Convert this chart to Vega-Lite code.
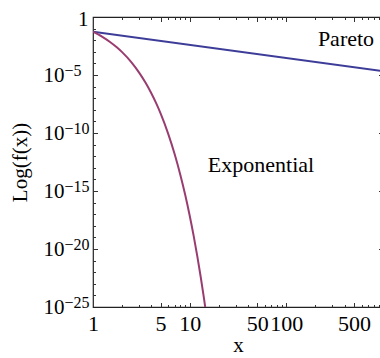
{
  "$schema": "https://vega.github.io/schema/vega-lite/v6.json",
  "width": 290,
  "height": 290,
  "autosize": {"type": "none"},
  "padding": {"left": 93, "top": 17, "right": 0, "bottom": 51},
  "background": "white",
  "config": {
    "view": {"stroke": "#222", "strokeWidth": 1.2},
    "font": "Liberation Serif, DejaVu Serif, serif",
    "axis": {"domain": false, "grid": false, "labelFont": "Liberation Serif, DejaVu Serif, serif", "titleFont": "Liberation Serif, DejaVu Serif, serif", "labelColor": "black", "titleColor": "black", "tickColor": "#333", "tickWidth": 1, "titleFontWeight": "normal"}
  },
  "data": {"values": [
    {"series": "Pareto", "x": 1, "y": 0.0537},
    {"series": "Pareto", "x": 1000, "y": 2.19e-5},
    {"series": "Exponential", "x": 1, "y": 0.0537},
    {"series": "Exponential", "x": 1.25, "y": 0.0195},
    {"series": "Exponential", "x": 1.5, "y": 0.00708},
    {"series": "Exponential", "x": 1.75, "y": 0.00257},
    {"series": "Exponential", "x": 2, "y": 0.000933},
    {"series": "Exponential", "x": 2.5, "y": 0.000123},
    {"series": "Exponential", "x": 3, "y": 1.62e-5},
    {"series": "Exponential", "x": 3.5, "y": 2.14e-6},
    {"series": "Exponential", "x": 4, "y": 2.82e-7},
    {"series": "Exponential", "x": 4.5, "y": 3.72e-8},
    {"series": "Exponential", "x": 5, "y": 4.9e-9},
    {"series": "Exponential", "x": 6, "y": 8.51e-11},
    {"series": "Exponential", "x": 7, "y": 1.48e-12},
    {"series": "Exponential", "x": 8, "y": 2.57e-14},
    {"series": "Exponential", "x": 9, "y": 4.47e-16},
    {"series": "Exponential", "x": 10, "y": 7.76e-18},
    {"series": "Exponential", "x": 11, "y": 1.35e-19},
    {"series": "Exponential", "x": 12, "y": 2.34e-21},
    {"series": "Exponential", "x": 13, "y": 4.07e-23},
    {"series": "Exponential", "x": 14, "y": 7.08e-25},
    {"series": "Exponential", "x": 14.48, "y": 1e-25}
  ]},
  "resolve": {"axis": {"x": "independent", "y": "independent"}},
  "layer": [
    {
      "mark": {"type": "line", "strokeWidth": 2, "clip": true, "interpolate": "monotone"},
      "encoding": {
        "x": {"field": "x", "type": "quantitative", "scale": {"type": "log", "domain": [1, 1000]},
          "axis": {"orient": "bottom", "values": [1, 5, 10, 50, 100, 500], "ticks": false, "tickSize": 0, "format": "d", "labelFontSize": 22, "labelPadding": 6, "labelOverlap": false, "labelFlush": false, "labelBound": false, "title": "x", "titleFontSize": 21, "titlePadding": 0}},
        "y": {"field": "y", "type": "quantitative", "scale": {"type": "log", "domain": [1e-25, 1]},
          "axis": {"orient": "left", "values": [1e-5, 1e-10, 1e-15, 1e-20, 1e-25], "ticks": false, "tickSize": 0, "labelExpr": "'10'", "labelFontSize": 21, "labelPadding": 29, "labelOverlap": false, "title": "Log(f(x))", "titleFontSize": 21, "titlePadding": 13}},
        "color": {"field": "series", "type": "nominal", "scale": {"domain": ["Pareto", "Exponential"], "range": ["#3d3d99", "#993d70"]}, "legend": null}
      }
    },
    {
      "data": {"values": [
        {"x": 414, "y": 0.0126, "label": "Pareto"},
        {"x": 54.7, "y": 1.6e-13, "label": "Exponential"}
      ]},
      "mark": {"type": "text", "fontSize": 22, "font": "Liberation Serif, DejaVu Serif, serif", "color": "black", "baseline": "middle"},
      "encoding": {
        "x": {"field": "x", "type": "quantitative", "scale": {"type": "log", "domain": [1, 1000]},
          "axis": {"orient": "bottom", "values": [5, 10, 50, 100, 500], "labels": false, "tickSize": 4.5, "offset": -4.5, "title": null}},
        "y": {"field": "y", "type": "quantitative", "scale": {"type": "log", "domain": [1e-25, 1]},
          "axis": {"orient": "left", "values": [1e-5, 1e-10, 1e-15, 1e-20, 1e-25], "ticks": false, "tickSize": 0, "labelExpr": "'\u2212' + abs(round(log(datum.value)/LN10))", "labelAlign": "left", "labelFontSize": 16, "labelPadding": 29, "labelOffset": -5, "labelOverlap": false, "title": null}},
        "text": {"field": "label", "type": "nominal"}
      }
    },
    {
      "mark": {"type": "point", "opacity": 0},
      "encoding": {
        "x": {"field": "x", "type": "quantitative", "scale": {"type": "log", "domain": [1, 1000]},
          "axis": {"orient": "bottom", "values": [2, 3, 4, 6, 7, 8, 9, 20, 30, 40, 60, 70, 80, 90, 200, 300, 400, 600, 700, 800, 900], "labels": false, "tickSize": 2.5, "offset": -2.5, "title": null}},
        "y": {"field": "y", "type": "quantitative", "scale": {"type": "log", "domain": [1e-25, 1]},
          "axis": {"orient": "left", "values": [1], "ticks": false, "tickSize": 0, "labelExpr": "'1'", "labelFontSize": 21, "labelPadding": 5, "labelOffset": 2, "title": null}}
      }
    },
    {
      "mark": {"type": "point", "opacity": 0},
      "encoding": {
        "x": {"field": "x", "type": "quantitative", "scale": {"type": "log", "domain": [1, 1000]},
          "axis": {"orient": "top", "values": [5, 10, 50, 100, 500], "labels": false, "tickSize": 4.5, "offset": -4.5, "title": null}},
        "y": {"field": "y", "type": "quantitative", "scale": {"type": "log", "domain": [1e-25, 1]},
          "axis": {"orient": "left", "values": [1e-5, 1e-10, 1e-15, 1e-20], "labels": false, "tickSize": 4.5, "offset": -4.5, "title": null}}
      }
    },
    {
      "mark": {"type": "point", "opacity": 0},
      "encoding": {
        "x": {"field": "x", "type": "quantitative", "scale": {"type": "log", "domain": [1, 1000]},
          "axis": {"orient": "top", "values": [2, 3, 4, 6, 7, 8, 9, 20, 30, 40, 60, 70, 80, 90, 200, 300, 400, 600, 700, 800, 900], "labels": false, "tickSize": 2.5, "offset": -2.5, "title": null}},
        "y": {"field": "y", "type": "quantitative", "scale": {"type": "log", "domain": [1e-25, 1]},
          "axis": {"orient": "left", "values": [1e-1, 1e-2, 1e-3, 1e-4, 1e-6, 1e-7, 1e-8, 1e-9, 1e-11, 1e-12, 1e-13, 1e-14, 1e-16, 1e-17, 1e-18, 1e-19, 1e-21, 1e-22, 1e-23, 1e-24], "labels": false, "tickSize": 2.5, "offset": -2.5, "title": null}}
      }
    },
    {
      "mark": {"type": "point", "opacity": 0},
      "encoding": {
        "x": {"field": "x", "type": "quantitative", "scale": {"type": "log", "domain": [1, 1000]}, "axis": null},
        "y": {"field": "y", "type": "quantitative", "scale": {"type": "log", "domain": [1e-25, 1]},
          "axis": {"orient": "right", "values": [1e-5, 1e-10, 1e-15, 1e-20], "labels": false, "tickSize": 4.5, "offset": -4.5, "title": null}}
      }
    },
    {
      "mark": {"type": "point", "opacity": 0},
      "encoding": {
        "x": {"field": "x", "type": "quantitative", "scale": {"type": "log", "domain": [1, 1000]}, "axis": null},
        "y": {"field": "y", "type": "quantitative", "scale": {"type": "log", "domain": [1e-25, 1]},
          "axis": {"orient": "right", "values": [1e-1, 1e-2, 1e-3, 1e-4, 1e-6, 1e-7, 1e-8, 1e-9, 1e-11, 1e-12, 1e-13, 1e-14, 1e-16, 1e-17, 1e-18, 1e-19, 1e-21, 1e-22, 1e-23, 1e-24], "labels": false, "tickSize": 2.5, "offset": -2.5, "title": null}}
      }
    }
  ]
}
